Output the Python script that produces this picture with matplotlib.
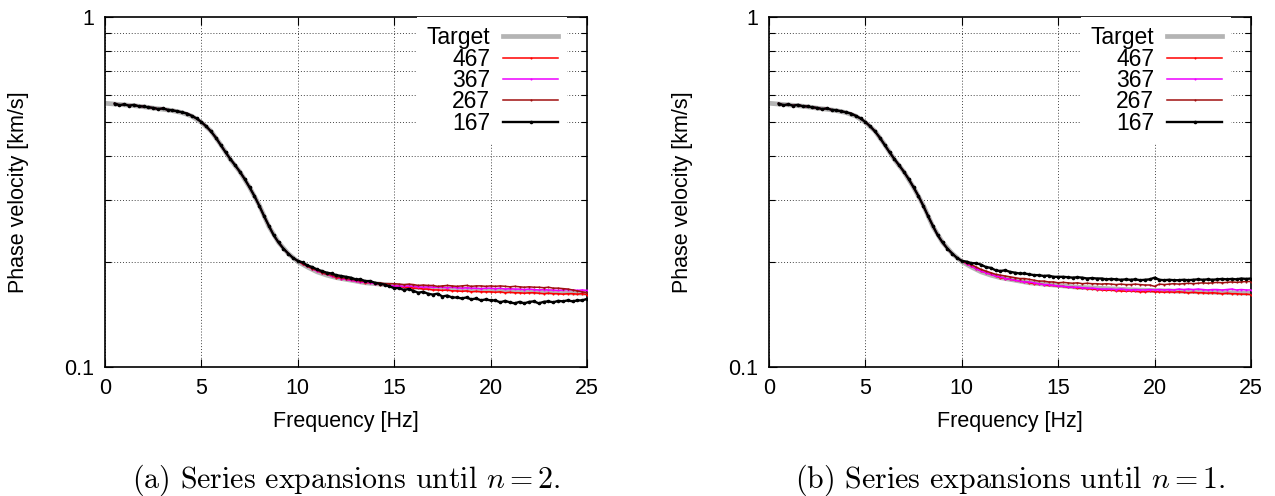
import numpy as np
import matplotlib
matplotlib.use("Agg")
import matplotlib.pyplot as plt
from matplotlib.ticker import FixedLocator, NullFormatter

plt.rcParams['font.family'] = ['Liberation Sans', 'DejaVu Sans']
plt.rcParams['mathtext.fontset'] = 'cm'

# target dispersion curve, 0.5 Hz steps
freq_target = np.arange(0, 25.01, 0.5)
target = [0.567, 0.564, 0.561, 0.558, 0.554, 0.549, 0.545, 0.540, 0.533, 0.521,
          0.500, 0.472, 0.432, 0.392, 0.361, 0.326, 0.290, 0.252, 0.227, 0.211,
          0.200, 0.193, 0.187, 0.183, 0.180, 0.178, 0.176, 0.174, 0.173, 0.172,
          0.171, 0.170, 0.169, 0.1685, 0.168, 0.1675, 0.167, 0.1665, 0.166, 0.1657,
          0.1654, 0.1651, 0.1648, 0.1645, 0.1642, 0.1639, 0.1636, 0.1633, 0.163, 0.1627,
          0.1624]

# inverted curves, 0.25 Hz steps; below 10 Hz they all lie on top of each other
freq_low = np.arange(0.5, 10.01, 0.25)
inv_low = [0.566, 0.560, 0.563, 0.558, 0.561, 0.556, 0.555, 0.552, 0.550, 0.546,
           0.548, 0.543, 0.541, 0.538, 0.534, 0.530, 0.522, 0.513, 0.501, 0.487,
           0.471, 0.452, 0.431, 0.411, 0.393, 0.377, 0.361, 0.344, 0.326, 0.308,
           0.289, 0.270, 0.253, 0.238, 0.227, 0.218, 0.211, 0.205, 0.201]
freq_high = np.arange(10.25, 25.01, 0.25)

# (a) expansions until n = 2
a_467 = [0.197, 0.194, 0.191, 0.188, 0.186, 0.184, 0.182, 0.180, 0.179, 0.178,
         0.177, 0.176, 0.175, 0.174, 0.174, 0.173, 0.172, 0.172, 0.171, 0.170,
         0.170, 0.169, 0.169, 0.168, 0.168, 0.167, 0.167, 0.166, 0.166, 0.1655,
         0.166, 0.165, 0.165, 0.1645, 0.165, 0.164, 0.1645, 0.164, 0.164, 0.164,
         0.1635, 0.164, 0.163, 0.1635, 0.163, 0.163, 0.1625, 0.163, 0.163, 0.1625,
         0.162, 0.1625, 0.162, 0.162, 0.1615, 0.162, 0.162, 0.1615, 0.162, 0.161]
a_367 = [0.197, 0.194, 0.191, 0.188, 0.186, 0.184, 0.182, 0.181, 0.179, 0.178,
         0.177, 0.176, 0.175, 0.175, 0.174, 0.173, 0.173, 0.172, 0.171, 0.1705,
         0.1705, 0.170, 0.1705, 0.170, 0.1695, 0.169, 0.1695, 0.169, 0.169, 0.169,
         0.1685, 0.169, 0.1685, 0.168, 0.1685, 0.168, 0.168, 0.1675, 0.168, 0.168,
         0.1675, 0.168, 0.167, 0.1675, 0.167, 0.167, 0.1665, 0.167, 0.1665, 0.166,
         0.1665, 0.166, 0.166, 0.1655, 0.166, 0.1665, 0.166, 0.1655, 0.166, 0.1655]
a_267 = [0.197, 0.194, 0.191, 0.189, 0.186, 0.184, 0.183, 0.181, 0.180, 0.179,
         0.178, 0.177, 0.176, 0.176, 0.175, 0.174, 0.174, 0.173, 0.173, 0.173,
         0.1725, 0.172, 0.1725, 0.172, 0.171, 0.1715, 0.171, 0.171, 0.170, 0.1705,
         0.171, 0.1705, 0.170, 0.1705, 0.171, 0.170, 0.1705, 0.1705, 0.170, 0.1705,
         0.170, 0.1705, 0.170, 0.1695, 0.170, 0.1695, 0.169, 0.1695, 0.169, 0.169,
         0.1685, 0.169, 0.168, 0.168, 0.1675, 0.167, 0.166, 0.165, 0.164, 0.163]
a_167 = [0.199, 0.195, 0.193, 0.190, 0.188, 0.186, 0.185, 0.183, 0.182, 0.181,
         0.180, 0.178, 0.178, 0.176, 0.176, 0.174, 0.173, 0.172, 0.170, 0.168,
         0.168, 0.166, 0.167, 0.165, 0.163, 0.164, 0.162, 0.161, 0.162, 0.159,
         0.160, 0.158, 0.158, 0.157, 0.158, 0.156, 0.157, 0.155, 0.156, 0.155,
         0.155, 0.153, 0.1545, 0.153, 0.152, 0.1535, 0.152, 0.1535, 0.154, 0.152,
         0.1535, 0.154, 0.153, 0.1545, 0.154, 0.155, 0.154, 0.155, 0.155, 0.1565]

# (b) expansions until n = 1
b_467 = [0.197, 0.194, 0.191, 0.188, 0.186, 0.184, 0.182, 0.180, 0.179, 0.178,
         0.177, 0.176, 0.175, 0.174, 0.173, 0.173, 0.172, 0.171, 0.171, 0.170,
         0.170, 0.169, 0.169, 0.168, 0.168, 0.1675, 0.167, 0.1665, 0.166, 0.1655,
         0.166, 0.165, 0.165, 0.1645, 0.165, 0.1645, 0.164, 0.164, 0.1645, 0.164,
         0.164, 0.1635, 0.164, 0.1635, 0.164, 0.1635, 0.163, 0.1635, 0.163, 0.163,
         0.1625, 0.163, 0.1625, 0.162, 0.1625, 0.162, 0.162, 0.1615, 0.1615, 0.161]
b_367 = [0.197, 0.194, 0.191, 0.188, 0.186, 0.184, 0.182, 0.181, 0.179, 0.178,
         0.177, 0.176, 0.175, 0.175, 0.174, 0.173, 0.172, 0.172, 0.171, 0.1705,
         0.170, 0.1695, 0.169, 0.169, 0.1685, 0.168, 0.168, 0.1675, 0.167, 0.167,
         0.167, 0.1665, 0.167, 0.1665, 0.166, 0.1665, 0.166, 0.166, 0.1665, 0.166,
         0.1665, 0.166, 0.1665, 0.166, 0.167, 0.1665, 0.167, 0.1665, 0.167, 0.1665,
         0.166, 0.1665, 0.1665, 0.166, 0.1665, 0.167, 0.166, 0.1665, 0.166, 0.166]
b_267 = [0.198, 0.196, 0.193, 0.190, 0.188, 0.186, 0.184, 0.183, 0.182, 0.181,
         0.180, 0.179, 0.179, 0.178, 0.177, 0.176, 0.176, 0.175, 0.175, 0.174,
         0.1745, 0.174, 0.1735, 0.174, 0.173, 0.1735, 0.173, 0.173, 0.1725, 0.173,
         0.1725, 0.172, 0.1725, 0.172, 0.172, 0.1725, 0.172, 0.1715, 0.1715, 0.170,
         0.1725, 0.172, 0.1725, 0.173, 0.1725, 0.173, 0.1735, 0.173, 0.1735, 0.174,
         0.1735, 0.174, 0.1745, 0.174, 0.1745, 0.175, 0.1745, 0.175, 0.1755, 0.1755]
b_167 = [0.200, 0.198, 0.198, 0.196, 0.193, 0.192, 0.189, 0.188, 0.189, 0.187,
         0.186, 0.185, 0.185, 0.184, 0.183, 0.183, 0.182, 0.1825, 0.181, 0.181,
         0.181, 0.1805, 0.180, 0.1805, 0.180, 0.179, 0.1795, 0.179, 0.179, 0.178,
         0.1785, 0.178, 0.1775, 0.178, 0.1775, 0.178, 0.177, 0.1775, 0.178, 0.180,
         0.1775, 0.177, 0.1775, 0.177, 0.177, 0.1775, 0.177, 0.1775, 0.178, 0.1775,
         0.178, 0.1775, 0.178, 0.1785, 0.178, 0.1785, 0.178, 0.179, 0.1785, 0.179]

labels = ['467', '367', '267', '167']
colors = ['#ff0000', '#ee00ff', '#a01010', '#000000']
panels = [
    ([a_467, a_367, a_267, a_167], '(a) Series expansions until $n=2$.'),
    ([b_467, b_367, b_267, b_167], '(b) Series expansions until $n=1$.'),
]
lefts = [105 / 1275, 769 / 1275]

fs = 15.5
fig = plt.figure(figsize=(12.75, 4.96), dpi=100)
freq_inv = np.concatenate([freq_low, freq_high])

for (series, caption), left in zip(panels, lefts):
    ax = fig.add_axes([left, 129 / 496, 482 / 1275, 350 / 496])
    ax.plot(freq_target, target, color='#b4b4b4', lw=3.4, label='Target', zorder=2)
    for vals, lab, col in zip(series, labels, colors):
        lw = 1.7 if lab == '167' else 1.1
        ms = 2.6 if lab == '167' else 1.5
        ax.plot(freq_inv, inv_low + vals, color=col, lw=lw, marker='o', ms=ms,
                mew=0, label=lab, zorder=3)

    ax.set_yscale('log')
    ax.set_xlim(0, 25)
    ax.set_ylim(0.1, 1)
    ax.set_xticks([0, 5, 10, 15, 20, 25])
    ax.yaxis.set_major_locator(FixedLocator([0.1, 1]))
    ax.set_yticklabels(['0.1', '1'])
    ax.yaxis.set_minor_locator(FixedLocator([0.2, 0.3, 0.4, 0.5, 0.6, 0.7, 0.8, 0.9]))
    ax.yaxis.set_minor_formatter(NullFormatter())
    ax.tick_params(which='both', direction='in', top=True, right=True,
                   labelsize=fs, length=6, width=0.8, pad=8)
    ax.tick_params(which='minor', length=4)
    ax.grid(True, which='major', axis='x', color='#444444', ls=(0, (1, 2)), lw=0.7)
    ax.grid(True, which='minor', axis='y', color='#444444', ls=(0, (1, 2)), lw=0.7)
    for sp in ax.spines.values():
        sp.set_linewidth(1.2)

    ax.set_xlabel('Frequency [Hz]', fontsize=fs, va='center')
    ax.xaxis.set_label_coords(0.5, -0.157)
    ax.set_ylabel('Phase velocity [km/s]', fontsize=fs, va='center')
    ax.yaxis.set_label_coords(-0.18, 0.5)

    leg = ax.legend(loc='upper right', bbox_to_anchor=(0.959, 1.0),
                    borderaxespad=0, markerfirst=False, frameon=True,
                    fancybox=False, edgecolor='none', framealpha=1,
                    fontsize=16.5, handlelength=2.4, handletextpad=0.57,
                    labelspacing=-0.07, borderpad=0.4, numpoints=1)
    leg.set_zorder(5)

    ax.text(0.5, -0.323, caption, transform=ax.transAxes, ha='center',
            va='center', fontsize=21.5, family='cmr10')

fig.savefig('out.png', dpi=100)
